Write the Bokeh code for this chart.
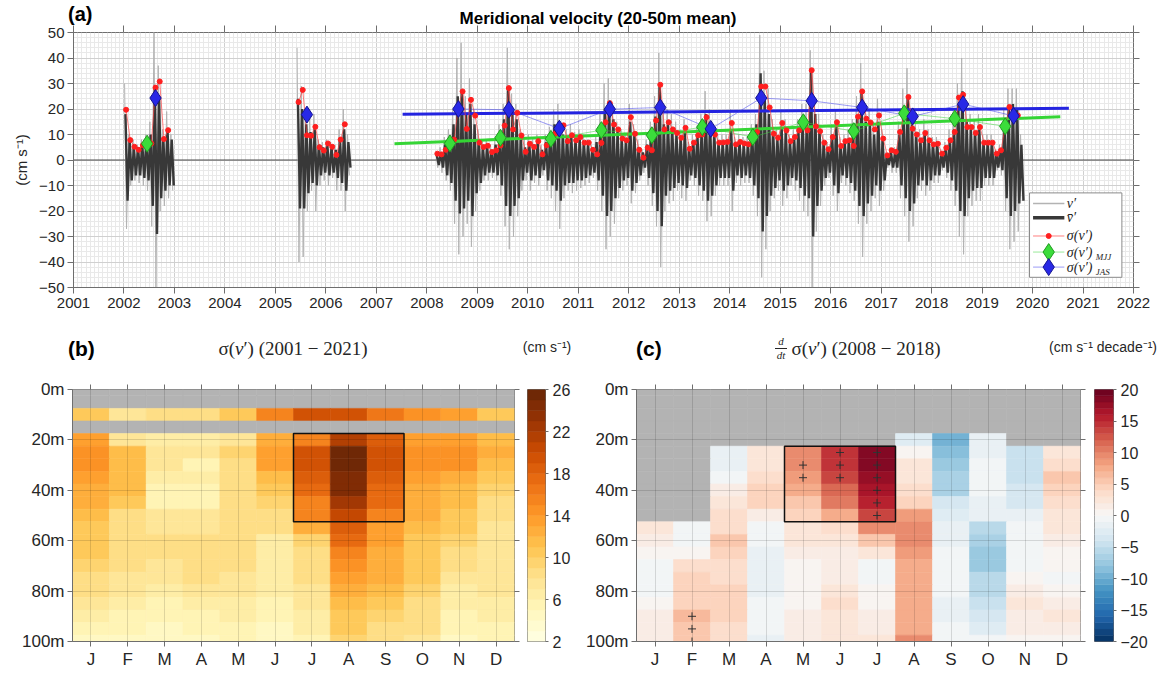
import numpy as np
from bokeh.plotting import figure
from bokeh.models import (LinearColorMapper, FixedTicker, SingleIntervalTicker,
                          LinearAxis, Span, Range1d, ColumnDataSource, Div)
from bokeh.layouts import column, row
from bokeh.embed import file_html
from bokeh.resources import INLINE
from bokeh.palettes import YlOrBr9, RdBu11
from bokeh.core.properties import value

# ------------------------------------------------------------------ data
# (a) monthly envelopes of v' (light) and smoothed v' (dark), monthly sigma(v')
seg1_start = (2002, 1)
seg1_vhi = [30, 10, 8, 6, 8, 10, 15, 50, 37, 12, 19, 10]
seg1_vlo = [-27, -10, -8, -9, -10, -12, -26, -50, -20, -18, -15, -12]
seg1_dhi = [18, 8, 5, 5, 6, 8, 10, 28, 25, 9, 12, 8]
seg1_dlo = [-16, -8, -6, -6, -7, -8, -18, -29, -15, -12, -10, -10]
seg1_sig = [19.7, 7.8, 5.2, 4.0, 5.8, 6.4, 6.5, 28.4, 30.8, 8.2, 11.7, None]

seg2_start = (2005, 6)
seg2_vhi = [44, 29, 20, 17, 18, 8, 7, 8, 7, 6, 12, 20, 10]
seg2_vlo = [-40, -38, -20, -12, -20, -10, -8, -10, -7, -12, -12, -20, -6]
seg2_dhi = [24, 20, 14, 11, 12, 6, 5, 6, 5, 4, 8, 12, 7]
seg2_dlo = [-19, -19, -13, -9, -10, -6, -5, -6, -5, -7, -9, -12, -3]
seg2_sig = [22.7, 27.5, 9.7, 9.5, 13.0, 5.0, 3.7, 6.5, 5.2, 2.0, 8.0, 14.0, None]

seg3_start = (2008, 3)
seg3_vhi = [3, 5, 9, 12, 20, 40, 46, 25, 32, 20,
            12, 8, 8, 6, 8, 14, 22, 44, 26, 22, 12, 8,
            10, 9, 10, 6, 10, 13, 20, 22, 14, 12, 14, 11,
            12, 10, 8, 6, 10, 18, 30, 32, 22, 15, 12, 10,
            22, 14, 8, 4, 8, 15, 25, 42, 20, 20, 18, 15,
            12, 16, 7, 10, 13, 18, 27, 20, 14, 10, 10, 10,
            20, 9, 10, 9, 9, 14, 18, 49, 35, 28, 16, 12,
            20, 16, 10, 12, 16, 22, 22, 43, 25, 18, 10, 7,
            14, 20, 9, 10, 12, 16, 25, 38, 22, 20, 15, 24,
            12, 3, 5, 5, 15, 28, 36, 20, 15, 12, 16, 12,
            9, 9, 4, 7, 12, 18, 30, 40, 22, 18, 16, 18,
            10, 10, 10, 4, 6, 20, 28, 28, 28, 10]
seg3_vlo = [-3, -5, -8, -12, -25, -37, -30, -25, -34, -20,
            -12, -8, -8, -7, -8, -14, -26, -35, -30, -22, -12, -8,
            -12, -9, -10, -6, -12, -15, -20, -27, -15, -12, -13, -12,
            -11, -10, -9, -7, -12, -20, -35, -30, -25, -15, -12, -10,
            -17, -13, -8, -5, -10, -18, -26, -42, -20, -17, -16, -12,
            -15, -16, -8, -10, -14, -16, -24, -22, -14, -10, -10, -10,
            -20, -9, -10, -9, -9, -14, -22, -46, -35, -20, -15, -12,
            -18, -15, -10, -12, -16, -20, -22, -50, -28, -18, -10, -7,
            -14, -20, -9, -10, -13, -16, -25, -38, -25, -20, -15, -18,
            -12, -3, -5, -5, -15, -22, -32, -26, -15, -12, -14, -12,
            -9, -9, -4, -7, -12, -18, -30, -37, -22, -18, -16, -16,
            -10, -10, -10, -4, -6, -20, -35, -32, -28, -16]
seg3_dhi = [2, 3, 6, 9, 14, 25, 27, 18, 22, 14,
            8, 5, 5, 4, 6, 10, 16, 28, 18, 16, 9, 5,
            7, 6, 7, 4, 7, 10, 14, 15, 10, 9, 9, 8,
            8, 7, 6, 4, 7, 14, 20, 22, 16, 11, 8, 7,
            15, 10, 5, 3, 6, 12, 17, 30, 14, 14, 12, 10,
            9, 11, 5, 7, 9, 12, 18, 14, 10, 7, 7, 7,
            12, 6, 7, 6, 6, 10, 14, 34, 24, 18, 11, 8,
            13, 11, 7, 8, 11, 15, 15, 36, 18, 12, 7, 5,
            10, 14, 6, 7, 8, 11, 17, 27, 15, 14, 10, 15,
            8, 2, 3, 3, 10, 18, 25, 14, 10, 8, 11, 8,
            6, 6, 3, 5, 8, 12, 22, 27, 15, 12, 11, 12,
            7, 7, 7, 3, 4, 14, 20, 22, 20, 6]
seg3_dlo = [-2, -3, -6, -9, -16, -21, -19, -16, -22, -13,
            -9, -6, -5, -5, -6, -10, -18, -22, -18, -15, -8, -5,
            -8, -6, -7, -4, -8, -10, -12, -16, -10, -9, -9, -8,
            -8, -7, -6, -5, -8, -14, -22, -20, -15, -11, -8, -7,
            -12, -9, -6, -3, -7, -13, -20, -26, -14, -12, -11, -9,
            -10, -11, -6, -7, -10, -12, -16, -14, -10, -7, -7, -7,
            -12, -6, -7, -6, -7, -10, -15, -28, -22, -14, -11, -8,
            -12, -10, -7, -8, -11, -14, -15, -30, -18, -12, -7, -5,
            -10, -13, -6, -7, -9, -12, -18, -22, -17, -14, -10, -12,
            -8, -2, -3, -3, -10, -15, -20, -17, -10, -8, -10, -8,
            -6, -6, -3, -5, -8, -12, -20, -22, -15, -12, -11, -11,
            -7, -7, -7, -3, -4, -15, -22, -20, -17, -16]
seg3_sig = [2.5, 2.2, 4.0, 6.0, 8.0, 21.0, 26.9, 12.2, 23.6, 17.4,
            6.8, 5.1, 5.6, 3.1, 3.8, 5.7, 13.5, 28.2, 12.0, 18.5, 9.6, 3.2,
            6.4, 5.1, 7.4, 2.2, 5.8, 8.0, 10.3, 12.0, 13.6, 7.4, 9.7, 7.7,
            9.0, 6.8, 6.8, 4.0, 2.2, 6.7, 14.8, 22.3, 13.9, 12.0, 8.4, 7.7,
            16.8, 10.3, 4.0, 0.9, 4.8, 3.8, 15.5, 29.5, 12.0, 14.8, 12.0, 10.6,
            8.7, 12.6, 4.4, 6.8, 9.7, 10.0, 16.8, 12.0, 10.0, 6.8, 6.9, 7.1,
            14.5, 6.1, 7.1, 6.5, 6.2, 8.5, 11.0, 28.8, 28.8, 20.6, 10.3, 8.7,
            14.5, 11.6, 7.4, 9.0, 11.6, 14.0, 11.6, 35.2, 13.2, 11.3, 6.8, 4.2,
            9.0, 14.8, 5.5, 7.4, 7.7, 5.5, 17.0, 26.9, 16.2, 14.7, 12.0, 17.5,
            8.4, 1.8, 3.8, 3.2, 11.0, 18.0, 24.7, 12.3, 10.0, 7.7, 10.6, 7.7,
            6.1, 6.4, 2.5, 4.8, 7.7, 11.0, 24.5, 25.6, 12.9, 12.9, 10.6, 12.9,
            6.8, 6.8, 6.8, 2.5, 3.8, 13.0, 20.8, 17.0, 17.5, None]

mjj_years = [2002, 2008, 2009, 2010, 2011, 2012, 2013, 2014, 2015, 2016, 2017, 2018, 2019]
mjj_vals = [6.4, 6.5, 8.7, 8.3, 11.7, 9.7, 12.9, 9.0, 14.8, 11.3, 18.3, 16.2, 13.2]
jas_years = [2002, 2005, 2008, 2009, 2010, 2011, 2012, 2013, 2014, 2015, 2016, 2017, 2018, 2019]
jas_vals = [24.3, 17.8, 20.0, 19.7, 12.3, 19.9, 20.6, 12.2, 24.3, 23.2, 20.6, 17.1, 21.9, 17.3]
mjj_trend_x = [2007.36, 2020.55]
mjj_trend_y = [6.4, 17.0]
jas_trend_x = [2007.52, 2020.72]
jas_trend_y = [17.9, 20.3]

# (b), (c) monthly x depth
month_labels = ["J", "F", "M", "A", "M", "J", "J", "A", "S", "O", "N", "D"]
depths = [0, 5, 10, 15, 20, 25, 30, 35, 40, 45, 50, 55, 60, 65, 70, 75, 80, 85, 90, 95, 100]
N = None
sig_b = [
    [N] * 12,
    [N] * 12,
    [10.5, 7, 8, 8, 10.5, 16, 19, 19, 16.5, 14, 13.5, 10],
    [N] * 12,
    [13.5, 7, 6.5, 6.5, 7, 12, 16, 21, 18.5, 13, 13, 11.5],
    [14.5, 11.5, 7, 7, 9.5, 13, 19, 25.5, 19.5, 14, 14, 12],
    [14.5, 11.5, 7.5, 5.5, 9, 13, 19.5, 25, 19, 14, 14, 11],
    [13, 11, 6, 6, 9, 11.5, 18.5, 24.5, 18, 13, 12.5, 10.5],
    [12, 11, 5.5, 5.5, 8.5, 10.5, 17.5, 24, 17.5, 12.5, 11.5, 9.5],
    [12, 10, 5.5, 5.5, 8, 9.5, 16, 22.5, 17, 12, 11, 8.5],
    [11, 9, 7.5, 7.5, 8, 9, 15, 20.5, 16, 12, 10.5, 8],
    [10.5, 8, 7.5, 7.5, 8.5, 8.5, 12, 18, 13.5, 11, 10, 7.5],
    [10.5, 8, 8, 8.5, 8.5, 6.5, 9.5, 17, 13, 10.5, 9.5, 7.5],
    [10, 8, 8, 9, 8.5, 6.5, 8.5, 16, 12.5, 10.5, 9, 7.5],
    [9.5, 8, 7.5, 8.5, 8, 6.5, 8, 14, 12, 10, 8, 7.5],
    [9, 7.5, 7, 8, 7.5, 6, 8, 13, 12, 10, 7.5, 7],
    [8.5, 7, 6.5, 7.5, 7, 6, 7, 12, 11, 9.5, 6.5, 7],
    [7, 6, 5.5, 6, 6.5, 5.5, 7, 11.5, 10, 9, 6, 6.5],
    [6, 5.5, 5, 5.5, 6, 5, 6.5, 10.5, 9.5, 8, 5.5, 6],
    [5, 5, 4.5, 5, 5.5, 4.5, 6, 10, 9, 8, 5, 5.5],
    [4.5, 4.5, 4, 4.5, 5, 4, 5.5, 9.5, 8.5, 7.5, 4.5, 5],
]
trend_c = [
    [N] * 12,
    [N] * 12,
    [N] * 12,
    [N] * 12,
    [N, N, N, N, N, N, N, -2.5, -9.5, -2, N, N],
    [N, N, -2, 2, 9, 14, 18, 0.5, -9, -1.5, -5, 2.5],
    [N, N, -1.5, 2.5, 9, 14, 18, 2, -8, -1, -5, 3.5],
    [N, N, -0.5, 3.5, 8.5, 13, 17.5, 2.5, -7, -0.3, -4.5, 5],
    [N, N, 1.5, 4, 7, 11.5, 16.5, 3, -6.5, -1, -4, 4.5],
    [N, N, 2.5, 4, 5, 10, 15.5, 4.5, -4, -1.5, -3.5, 3.5],
    [N, N, 3, 1.5, 4.5, 7.5, 13, 8.5, -3, -1.5, -1.5, 2.5],
    [2, -1, 3.5, -0.5, 2.5, 3.5, 9.5, 9, -2, -6, -1, 2],
    [1.5, -0.5, 5, -1, 2, 2, 5, 9, -1.5, -7, -1, 1.5],
    [0, 0.5, 4, -1.5, 1.5, 1.5, 2.5, 8.5, -1, -8, -0.5, 0.5],
    [-1, 3, 3, -2, 0.5, 1, -0.3, 7, -0.5, -7.5, -0.3, 0],
    [-1, 4, 3.5, -2, 0, 1, -0.5, 7, -0.5, -6, 0, -0.3],
    [-0.5, 4.5, 4.5, -2, 0.3, 2.5, 0, 7.5, -1, -5.5, 1.5, 0.5],
    [0.5, 4.5, 4.5, -1, 0.5, 3, 0.5, 7, -1.5, -4.5, 2, 1],
    [1, 6, 4, -1, 1.5, 2.5, 1, 7, -1.5, -4, 1.5, 2],
    [1, 5.5, 3.5, -1, 1.5, 2, 1, 7, -0.5, -3, 1, 1],
    [1, 5, 3, -2, 1.5, 2.5, 2.5, 9, -0.3, -0.5, 0.5, 0.5],
]
signif_month = [5, 5, 6, 6, 6, 7, 7, 7, 7, 7, 7, 2, 2, 2]
signif_depth = [30, 35, 25, 30, 35, 25, 30, 35, 40, 45, 50, 90, 95, 100]
box_b_months = (7, 9)
box_b_depths = (20, 50)
box_c_months = (5, 7)
box_c_depths = (25, 50)
ticks_b = [2, 6, 10, 14, 18, 22, 26]
ticks_c = [-20, -15, -10, -5, 0, 5, 10, 15, 20]

# ------------------------------------------------------------------ helpers
SANS = "Liberation Sans"
SERIF = "Liberation Serif"
AX = "#6e6e6e"
TXT = "#262626"


def band_palette(pal, n):
    rgb = np.array([[int(c[i:i + 2], 16) for i in (1, 3, 5)] for c in pal], float)
    xs = np.linspace(0, 1, len(pal))
    out = []
    for t in (np.arange(n) + 0.5) / n:
        r = [int(round(np.interp(t, xs, rgb[:, k]))) for k in range(3)]
        out.append("#%02x%02x%02x" % tuple(r))
    return out


def style_axis(ax, size="15px"):
    ax.axis_line_color = AX
    ax.major_tick_line_color = AX
    ax.minor_tick_line_color = None
    ax.major_tick_in = 0
    ax.major_tick_out = 6
    ax.major_label_text_font = SANS
    ax.major_label_text_font_size = size
    ax.major_label_text_color = TXT
    ax.major_label_standoff = 3


def ticks_only_axis(ticker, out=6):
    a = LinearAxis(ticker=ticker)
    a.major_label_text_font_size = "1px"
    a.major_label_text_color = None
    a.major_label_standoff = 0
    a.major_tick_in = 0
    a.major_tick_out = out
    a.major_tick_line_color = AX
    a.minor_tick_line_color = None
    a.axis_line_color = None
    return a


def span(x, y, s, size, family=SANS, weight="normal", style="normal", align="left", color=TXT):
    tx = "-50%" if align == "center" else "0"
    return ('<span style="position:absolute;left:%spx;top:%spx;transform:translate(%s,-50%%);'
            'font-family:\'%s\';font-size:%spx;font-weight:%s;font-style:%s;color:%s;'
            'white-space:nowrap;line-height:1;">%s</span>' % (x, y, tx, family, size, weight, style, color, s))


def header_div(width, height, parts):
    html = ('<div style="position:relative;width:%dpx;height:%dpx;margin:0;padding:0;overflow:visible;">'
            % (width, height)) + "".join(parts) + "</div>"
    return Div(text=html, width=width, height=height, margin=0)


# ------------------------------------------------------------------ header (a)
ha = header_div(1164, 24, [
    span(68, 14, "(a)", 20, weight="bold", color="#000"),
    span(598, 18, "Meridional velocity (20-50m mean)", 17, weight="bold", align="center", color="#000"),
])

# ------------------------------------------------------------------ panel (a)
p1 = figure(width=1164, height=306, x_range=Range1d(2001, 2022), y_range=Range1d(-50, 50),
            output_backend="svg", toolbar_location=None,
            min_border_left=73, min_border_right=31, min_border_top=8, min_border_bottom=43)
p1.outline_line_color = AX
p1.border_fill_alpha = 0
xt = SingleIntervalTicker(interval=1, num_minor_ticks=12)
yt = SingleIntervalTicker(interval=10, num_minor_ticks=5)
p1.xaxis.ticker = xt
p1.yaxis.ticker = yt
p1.xgrid.ticker = xt
p1.ygrid.ticker = yt
for g in (p1.xgrid, p1.ygrid):
    g.grid_line_color = "#d0d0d0"
    g.minor_grid_line_color = "#e9e9e9"
style_axis(p1.xaxis[0])
style_axis(p1.yaxis[0])
p1.xaxis.major_label_standoff = 4
p1.yaxis.axis_label = "(cm s⁻¹)"
p1.yaxis.axis_label_text_font = SANS
p1.yaxis.axis_label_text_font_style = "normal"
p1.yaxis.axis_label_text_font_size = "15px"
p1.yaxis.axis_label_text_color = TXT
p1.yaxis.axis_label_standoff = 6
p1.add_layout(ticks_only_axis(xt, out=7), "above")
p1.add_layout(ticks_only_axis(yt, out=6), "right")

p1.add_layout(Span(location=0, dimension="width", line_color="#4a4a4a", line_width=1, level="underlay"))

segments = [
    (seg1_start, seg1_vhi, seg1_vlo, seg1_dhi, seg1_dlo, seg1_sig),
    (seg2_start, seg2_vhi, seg2_vlo, seg2_dhi, seg2_dlo, seg2_sig),
    (seg3_start, seg3_vhi, seg3_vlo, seg3_dhi, seg3_dlo, seg3_sig),
]
sig_lines = []
for (y0, m0), vhi, vlo, dhi, dlo, sig in segments:
    t = np.array([y0 + (m0 - 1 + i) / 12.0 for i in range(len(vhi))])
    lx = np.column_stack([t + 0.15 / 12, t + 0.6 / 12]).ravel()
    ly = np.column_stack([vhi, vlo]).ravel()
    dx = np.column_stack([t + 0.35 / 12, t + 0.85 / 12]).ravel()
    dy = np.column_stack([dhi, dlo]).ravel()
    p1.line(lx, ly, line_color="#b3b3b3", line_width=1)
    p1.line(dx, dy, line_color="#383838", line_width=2.4)
    sig_lines.append((t + 0.5 / 12, np.array(sig, dtype=float)))

mjx = np.array(mjj_years) + 5.5 / 12
jax = np.array(jas_years) + 7.5 / 12
mjv = np.array(mjj_vals)
jav = np.array(jas_vals)
mk = np.array(mjj_years) >= 2008
jk = np.array(jas_years) >= 2008

p1.line(mjj_trend_x, mjj_trend_y, line_color="#35d535", line_width=3)
p1.line(jas_trend_x, jas_trend_y, line_color="#2424e0", line_width=3)
p1.line(mjx[mk], mjv[mk], line_color="#35d535", line_alpha=0.5, line_width=1)
p1.line(jax[jk], jav[jk], line_color="#3a3aee", line_alpha=0.5, line_width=1)
for t, s in sig_lines:
    p1.line(t, s, line_color="#ff3b3b", line_alpha=0.65, line_width=1)
    p1.scatter(t, s, size=5, fill_color="#ff1f1f", line_color="#ff1f1f", marker="circle")
p1.scatter(mjx, mjv, marker="diamond", size=17, fill_color="#3bdc3b", line_color="#1f9a1f", line_width=1)
p1.scatter(jax, jav, marker="diamond", size=17, fill_color="#2828e6", line_color="#141490", line_width=1)

# legend (drawn inside the axes)
p1.quad(left=[2019.94], right=[2021.77], bottom=[-46.0], top=[-12.9],
        fill_color="white", line_color="#8a8a8a", line_width=1)
rows_y = [-17.1, -22.6, -29.8, -36.1, -42.0]
p1.line([2020.01, 2020.63], [rows_y[0]] * 2, line_color="#b3b3b3", line_width=1.5)
p1.line([2020.01, 2020.63], [rows_y[1]] * 2, line_color="#383838", line_width=3.5)
p1.line([2020.01, 2020.63], [rows_y[2]] * 2, line_color="#ff3b3b", line_alpha=0.65, line_width=1)
p1.scatter([2020.32], [rows_y[2]], size=5, fill_color="#ff1f1f", line_color="#ff1f1f")
p1.line([2020.01, 2020.63], [rows_y[3]] * 2, line_color="#35d535", line_alpha=0.5, line_width=1)
p1.scatter([2020.32], [rows_y[3]], marker="diamond", size=17, fill_color="#3bdc3b", line_color="#1f9a1f")
p1.line([2020.01, 2020.63], [rows_y[4]] * 2, line_color="#3a3aee", line_alpha=0.5, line_width=1)
p1.scatter([2020.32], [rows_y[4]], marker="diamond", size=17, fill_color="#2828e6", line_color="#141490")
p1.text(x=[2020.68] * 5, y=rows_y, text=["v′", "v̄′", "σ(v′)", "σ(v′)", "σ(v′)"],
        text_font=value(SERIF), text_font_style="italic", text_font_size="14px",
        text_baseline="middle", text_color=TXT)
p1.text(x=[2020.68] * 2, y=rows_y[3:], text=["MJJ", "JAS"], x_offset=29, y_offset=5,
        text_font=value(SERIF), text_font_style="italic", text_font_size="9px",
        text_baseline="middle", text_color=TXT)

# ------------------------------------------------------------------ header (b), (c)
hb = header_div(1164, 45, [
    span(68, 18, "(b)", 21, weight="bold", color="#000"),
    span(293, 18, "σ(<i>v</i>′) (2001 − 2021)", 19, family=SERIF, align="center"),
    span(547, 17, "(cm s⁻¹)", 14, align="center"),
    span(636, 18, "(c)", 21, weight="bold", color="#000"),
    span(781, 11, "<i>d</i>", 11, family=SERIF, align="center"),
    span(781, 25, "<i>dt</i>", 11, family=SERIF, align="center"),
    '<span style="position:absolute;left:775px;top:18px;width:12px;height:0;border-top:1px solid #262626;"></span>',
    span(866, 18, "σ(<i>v</i>′) (2008 − 2018)", 19, family=SERIF, align="center"),
    span(1103, 17, "(cm s⁻¹ decade⁻¹)", 14, align="center"),
])

# ------------------------------------------------------------------ panels (b), (c)
pal_b = band_palette(list(YlOrBr9)[::-1], 24)
pal_c = band_palette(list(RdBu11), 40)
map_b = LinearColorMapper(palette=pal_b, low=2, high=26, nan_color="#b3b3b3")
map_c = LinearColorMapper(palette=pal_c, low=-20, high=20, nan_color="#b3b3b3")


def heat_fig(width, mbl, mbr, grid, mapper, box_m, box_d):
    f = figure(width=width, height=300, x_range=Range1d(0.5, 12.5), y_range=Range1d(100, 0),
               output_backend="svg", toolbar_location=None,
               min_border_left=mbl, min_border_right=mbr, min_border_top=14, min_border_bottom=34)
    f.outline_line_color = AX
    mt = FixedTicker(ticks=list(range(1, 13)))
    dt = FixedTicker(ticks=[0, 20, 40, 60, 80, 100])
    f.xaxis.ticker = mt
    f.yaxis.ticker = dt
    f.xgrid.ticker = mt
    f.ygrid.ticker = dt
    style_axis(f.xaxis[0], "17px")
    style_axis(f.yaxis[0], "17px")
    f.xaxis.major_tick_out = 5
    f.yaxis.major_tick_out = 5
    f.xaxis.major_label_overrides = {i + 1: m for i, m in enumerate(month_labels)}
    f.yaxis.major_label_overrides = {d: "%dm" % d for d in [0, 20, 40, 60, 80, 100]}
    for g in (f.xgrid, f.ygrid):
        g.grid_line_color = "#000000"
        g.grid_line_alpha = 0.13
        g.level = "overlay"
    g_arr = np.array([[np.nan if v is None else v for v in r] for r in grid], float)
    L, R, T, B, V = [], [], [], [], []
    for i, d in enumerate(depths):
        for j in range(12):
            L.append(j + 0.5)
            R.append(j + 1.5)
            T.append(max(d - 2.5, 0))
            B.append(min(d + 2.5, 100))
            V.append(g_arr[i, j])
    src = ColumnDataSource(dict(l=np.array(L), r=np.array(R), t=np.array(T), b=np.array(B), v=np.array(V)))
    f.quad(left="l", right="r", top="t", bottom="b", source=src,
           fill_color={"field": "v", "transform": mapper},
           line_color={"field": "v", "transform": mapper}, line_width=0.6)
    f.quad(left=[box_m[0] - 0.5], right=[box_m[1] + 0.5], top=[box_d[0] - 2.5], bottom=[box_d[1] + 2.5],
           fill_color=None, line_color="#111111", line_width=1.5)
    f.add_layout(ticks_only_axis(mt, out=5), "above")
    f.add_layout(ticks_only_axis(dt, out=5), "right")
    return f


def cbar_fig(width, mbl, mbr, palette, low, high, ticks):
    f = figure(width=width, height=300, x_range=Range1d(0, 1), y_range=Range1d(low, high),
               output_backend="svg", toolbar_location=None, x_axis_type=None, y_axis_type=None,
               min_border_left=mbl, min_border_right=mbr, min_border_top=14, min_border_bottom=34)
    f.outline_line_color = AX
    edges = np.linspace(low, high, len(palette) + 1)
    f.quad(left=0, right=1, bottom=edges[:-1], top=edges[1:], fill_color=palette,
           line_color=palette, line_width=0.5)
    ax = LinearAxis(ticker=FixedTicker(ticks=ticks))
    style_axis(ax, "16px")
    ax.major_tick_out = 3
    ax.major_label_standoff = 4
    ax.axis_line_color = None
    f.add_layout(ax, "right")
    return f


p2 = heat_fig(520, 72, 6, sig_b, map_b, box_b_months, box_b_depths)
cb2 = cbar_fig(60, 7, 35, pal_b, 2, 26, ticks_b)
p3 = heat_fig(508, 56, 8, trend_c, map_c, box_c_months, box_c_depths)
p3.scatter(signif_month, signif_depth, marker="cross", size=8, line_color="#333333", line_width=1)
cb3 = cbar_fig(76, 6, 51, pal_c, -20, 20, ticks_c)

layout = column(ha, p1, hb, row(p2, cb2, p3, cb3, spacing=0), spacing=0)
open("out.html", "w").write(file_html(layout, INLINE))
